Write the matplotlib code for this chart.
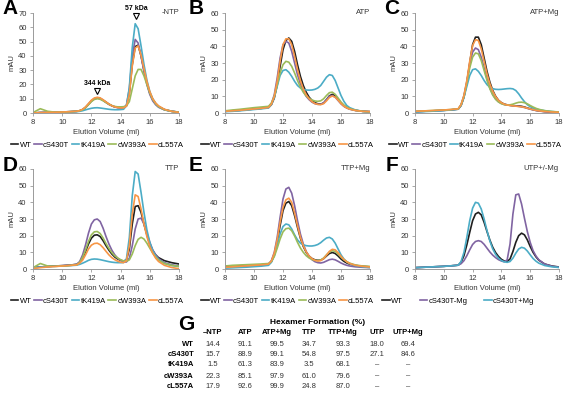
import matplotlib
matplotlib.use("Agg")
import matplotlib.pyplot as plt

plt.rcParams['font.family'] = ['Liberation Sans', 'DejaVu Sans']

# elution volume (ml), shared by every trace
vol = [8, 8.5, 9, 9.5, 10, 10.5, 11, 11.2, 11.4, 11.6, 11.8, 12, 12.2, 12.4, 12.6, 12.8,
       13, 13.2, 13.4, 13.6, 13.8, 14, 14.2, 14.4, 14.6, 14.8, 15, 15.2, 15.4, 15.6, 15.8,
       16, 16.2, 16.4, 16.6, 17, 17.5, 18]

mutants = ['WT', 'cS430T', 'tK419A', 'cW393A', 'cL557A']
colors = ['#1f1f1f', '#8064A2', '#4BACC6', '#9BBB59', '#F79646']

# A: -NTP
a_wt = [0, 0.3, 0.4, 0.5, 0.7, 0.9, 1.2, 1.6, 2.4, 4.0, 6.2, 8.5, 10.0, 10.6, 10.2, 9.0, 7.6, 6.2, 5.1, 4.3, 3.9, 3.7, 3.7, 5.0, 14, 34, 46.5, 47.5, 40, 30, 21, 14, 9.5, 6.5, 4.5, 2.4, 1.2, 0.6]
a_s430t = [0, 0.3, 0.4, 0.5, 0.7, 0.9, 1.2, 1.6, 2.3, 3.8, 6.0, 8.3, 9.8, 10.4, 10.0, 8.8, 7.4, 6.0, 5.0, 4.2, 3.8, 3.6, 3.6, 5.5, 17, 40, 51.5, 49, 40, 29, 20, 13, 8.5, 5.8, 4.0, 2.2, 1.1, 0.5]
a_k419a = [0, 0.2, 0.3, 0.4, 0.5, 0.7, 0.9, 1.2, 1.6, 2.2, 2.8, 3.3, 3.6, 3.7, 3.5, 3.2, 2.9, 2.6, 2.4, 2.3, 2.3, 2.4, 2.6, 5.0, 18, 46, 62.5, 59, 47, 34, 23, 15, 10, 6.8, 4.6, 2.4, 1.2, 0.6]
a_w393a = [0.3, 3.0, 1.2, 0.6, 0.7, 0.9, 1.2, 1.6, 2.3, 3.7, 5.8, 8.0, 9.5, 10.0, 9.6, 8.6, 7.3, 6.1, 5.2, 4.6, 4.3, 4.3, 4.4, 5.0, 8, 17, 26, 30.5, 30.5, 26, 20, 14, 9.5, 6.5, 4.5, 2.3, 1.1, 0.5]
a_l557a = [0, 0.3, 0.4, 0.5, 0.7, 0.9, 1.2, 1.7, 2.6, 4.3, 6.6, 9.0, 10.5, 11.0, 10.6, 9.3, 7.8, 6.3, 5.1, 4.3, 3.8, 3.6, 3.6, 4.8, 13, 33, 45.5, 47, 40.5, 31, 22, 15, 10, 7, 5, 2.6, 1.2, 0.4]

# B: ATP
b_wt = [1.0, 1.3, 1.6, 2.0, 2.4, 2.8, 3.3, 5.0, 9, 17, 28, 38, 43.5, 45, 43, 37, 29, 22, 16.5, 12.5, 9.5, 7.5, 6.2, 5.5, 5.3, 6.0, 8.0, 10.3, 11.2, 10.3, 8.2, 6.0, 4.3, 3.2, 2.5, 1.6, 1.0, 0.8]
b_s430t = [1.0, 1.3, 1.6, 2.0, 2.4, 2.8, 3.4, 5.5, 11, 21, 33, 41, 43, 42, 37, 30, 23, 17.5, 13, 10, 8, 6.5, 5.6, 5.2, 5.2, 6.0, 8.0, 10.0, 10.5, 9.5, 7.5, 5.5, 4.0, 3.0, 2.3, 1.5, 1.0, 0.8]
b_k419a = [0.8, 1.0, 1.3, 1.7, 2.1, 2.5, 3.0, 5, 9.5, 16, 22.5, 25.5, 26, 24.5, 22, 19, 16.5, 15, 14.2, 13.8, 13.7, 13.8, 14.2, 15.0, 16.5, 19, 21.5, 23, 22.5, 19.5, 15, 10.5, 7, 4.5, 3.2, 1.8, 1.0, 0.6]
b_w393a = [1.3, 1.8, 2.2, 2.7, 3.2, 3.6, 4.0, 6, 10, 17, 24, 29, 31, 30.5, 28, 24, 19.5, 15.5, 12.5, 10.2, 8.8, 7.8, 7.2, 7.0, 7.3, 8.5, 10.5, 12.2, 12.5, 11.2, 9, 6.6, 4.8, 3.5, 2.6, 1.6, 1.0, 0.7]
b_l557a = [1.0, 1.3, 1.6, 2.0, 2.4, 2.8, 3.3, 5.3, 10, 19, 31, 41, 44.5, 44.5, 41, 34, 26, 19.5, 14.5, 11, 8.5, 6.8, 5.7, 5.2, 5.0, 5.6, 7.3, 9.3, 10.2, 9.5, 7.7, 5.7, 4.1, 3.0, 2.3, 1.5, 1.0, 0.8]

# C: ATP+Mg
c_wt = [0.8, 1.0, 1.2, 1.4, 1.6, 1.9, 2.3, 4.5, 9.5, 18, 30, 41, 45.5, 45.5, 41, 33, 25, 18.5, 13.5, 10, 7.6, 6.2, 5.3, 4.9, 4.6, 4.4, 4.3, 4.2, 4.0, 3.6, 3.0, 2.5, 2.0, 1.6, 1.3, 0.9, 0.6, 0.4]
c_s430t = [0.8, 1.0, 1.2, 1.4, 1.6, 1.9, 2.4, 5, 10.5, 19, 29, 36.5, 39, 38, 33.5, 27, 20.5, 15, 11, 8.4, 6.7, 5.7, 5.1, 4.8, 4.6, 4.4, 4.2, 4.0, 3.7, 3.3, 2.8, 2.3, 1.9, 1.5, 1.2, 0.8, 0.5, 0.3]
c_k419a = [0.6, 0.8, 1.0, 1.2, 1.5, 1.8, 2.3, 4.5, 9.5, 16, 22.5, 26, 26.5, 25, 22.5, 19.5, 17, 15.5, 14.6, 14.2, 14.1, 14.2, 14.4, 14.6, 14.7, 14.5, 13.5, 11.5, 9, 6.8, 5, 3.8, 3.0, 2.4, 2.0, 1.4, 0.9, 0.5]
c_w393a = [1.0, 1.2, 1.4, 1.6, 1.8, 2.1, 2.5, 5, 10, 18, 27, 33.5, 36, 35.5, 31.5, 25.5, 19.5, 14.5, 10.8, 8.2, 6.6, 5.6, 5.0, 4.8, 4.9, 5.3, 5.9, 6.4, 6.5, 6.2, 5.5, 4.5, 3.6, 2.8, 2.2, 1.4, 0.9, 0.6]
c_l557a = [1.0, 1.2, 1.4, 1.6, 1.8, 2.1, 2.5, 5, 10.5, 19.5, 31, 40.5, 44, 43.5, 38.5, 31, 23.5, 17.5, 13, 9.8, 7.6, 6.2, 5.3, 4.8, 4.5, 4.3, 4.1, 3.9, 3.7, 3.4, 2.9, 2.4, 2.0, 1.6, 1.3, 0.9, 0.6, 0.4]

# D: TTP
d_wt = [0.8, 1.2, 1.5, 1.8, 2.0, 2.3, 2.8, 4, 6.5, 10.5, 15, 18.5, 20.3, 20.5, 19.5, 17, 14, 11.3, 9, 7.2, 6, 5.2, 4.7, 5.5, 12, 27, 37.5, 38, 34, 27, 20.5, 15, 11, 8.5, 6.8, 5, 3.8, 3.0]
d_s430t = [0.8, 1.2, 1.5, 1.8, 2.0, 2.3, 2.8, 4.5, 8.5, 14.5, 21.5, 27, 29.5, 30, 28.5, 24.5, 19.5, 15, 11.3, 8.5, 6.5, 5.2, 4.3, 4.2, 6.5, 14, 24, 30, 30.5, 27, 21.5, 16, 11.5, 8.5, 6.2, 3.8, 2.5, 1.8]
d_k419a = [0.8, 1.1, 1.3, 1.6, 1.8, 2.0, 2.3, 2.8, 3.5, 4.3, 5.2, 5.8, 6.0, 5.9, 5.6, 5.2, 4.8, 4.4, 4.1, 3.9, 3.8, 3.8, 3.9, 6, 19, 44, 58.5, 57, 46, 34, 23.5, 16, 11, 7.8, 5.6, 3.3, 2.1, 1.5]
d_w393a = [0.8, 3.3, 1.8, 1.6, 1.8, 2.1, 2.6, 4, 7, 11.5, 16.5, 20.5, 22.3, 22.5, 21.3, 18.6, 15.3, 12.3, 9.8, 7.9, 6.6, 5.6, 4.9, 4.6, 5.5, 9, 14, 17.8, 19, 18, 15.5, 12.5, 9.5, 7.2, 5.4, 3.3, 2.2, 1.6]
d_l557a = [0.3, 0.8, 1.2, 1.5, 1.8, 2.1, 2.5, 3.5, 5.3, 8.5, 12, 14.3, 15.3, 15.5, 14.6, 12.8, 10.6, 8.5, 6.8, 5.6, 4.7, 4.1, 3.8, 5, 14, 33, 44.5, 43.5, 36, 27, 19.5, 13.5, 9.5, 6.5, 4.5, 2.2, 0.9, 0.2]

# E: TTP+Mg
e_wt = [1.5, 1.7, 1.9, 2.1, 2.3, 2.5, 2.9, 4.5, 8.5, 16, 26, 35, 39.5, 40.5, 38, 32, 25, 18.5, 13.5, 10, 7.7, 6.3, 5.5, 5.2, 5.3, 6.2, 7.8, 9.3, 9.9, 9.3, 7.8, 6.0, 4.6, 3.6, 2.9, 2.1, 1.6, 1.3]
e_s430t = [1.0, 1.3, 1.6, 1.9, 2.2, 2.5, 2.9, 5, 10, 19, 31, 42, 48, 49, 45.5, 38, 29, 21, 15, 10.5, 7.5, 5.6, 4.4, 3.8, 3.6, 4.0, 4.8, 5.6, 5.9, 5.5, 4.6, 3.6, 2.8, 2.2, 1.8, 1.3, 1.0, 0.8]
e_k419a = [0.5, 0.7, 0.9, 1.1, 1.4, 1.7, 2.2, 4, 8, 14.5, 21, 25.5, 27, 26.5, 24, 20.5, 17.5, 15.5, 14.5, 14, 13.8, 13.8, 14.1, 14.7, 15.8, 17.3, 18.6, 19, 18, 15.5, 12, 8.5, 6, 4.3, 3.2, 2.0, 1.3, 0.9]
e_w393a = [1.8, 2.2, 2.4, 2.6, 2.8, 3.0, 3.3, 4.5, 7.5, 12.5, 18, 22.3, 24.2, 24.5, 23, 19.8, 16, 12.6, 10, 8, 6.6, 5.7, 5.2, 5.0, 5.4, 6.6, 8.5, 10.2, 11, 10.5, 9, 7.2, 5.6, 4.4, 3.5, 2.4, 1.8, 1.5]
e_l557a = [1.0, 1.3, 1.6, 1.9, 2.2, 2.5, 2.9, 4.8, 9.5, 17.5, 28, 37, 41.5, 42.5, 40, 33.5, 26, 19, 14, 10.3, 7.8, 6.2, 5.2, 4.8, 5.0, 6.2, 8.3, 10.6, 11.8, 11.5, 9.8, 7.6, 5.7, 4.3, 3.3, 2.2, 1.6, 1.2]

# F: UTP +/- Mg
f_labels = ['WT', 'cS430T-Mg', 'cS430T+Mg']
f_colors = ['#1f1f1f', '#8064A2', '#4BACC6']
f_wt = [0.8, 1.0, 1.2, 1.4, 1.6, 1.9, 2.3, 4, 8, 14.5, 22, 29, 33, 34, 32.5, 28, 22.5, 17.3, 13, 9.8, 7.5, 5.8, 4.8, 4.5, 6, 10.5, 16, 20, 21.5, 20.5, 17.5, 13.5, 10, 7.3, 5.3, 3.0, 1.8, 1.2]
f_s430t_nomg = [0.8, 1.0, 1.2, 1.4, 1.6, 1.9, 2.3, 3.2, 5, 8, 11.5, 14.7, 16.5, 17, 16.5, 14.8, 12.5, 10.2, 8.3, 6.8, 5.6, 4.8, 4.3, 5.5, 15, 33, 44.5, 45, 39, 30.5, 22.5, 16, 11, 7.8, 5.5, 3.0, 1.7, 1.0]
f_s430t_mg = [0.8, 1.0, 1.2, 1.4, 1.6, 1.9, 2.3, 4.5, 10, 19, 29, 36.5, 40, 39.5, 36, 30, 23, 16.8, 12, 8.7, 6.5, 5.1, 4.3, 4.0, 4.5, 6.5, 9.5, 12, 13, 12.5, 10.8, 8.5, 6.3, 4.7, 3.5, 2.1, 1.3, 0.9]

# G: hexamer formation table
conditions = ['\u2013NTP', 'ATP', 'ATP+Mg', 'TTP', 'TTP+Mg', 'UTP', 'UTP+Mg']
hex_wt = ['14.4', '91.1', '99.5', '34.7', '93.3', '18.0', '69.4']
hex_s430t = ['15.7', '88.9', '99.1', '54.8', '97.5', '27.1', '84.6']
hex_k419a = ['1.5', '61.3', '83.9', '3.5', '68.1', '\u2013', '\u2013']
hex_w393a = ['22.3', '85.1', '97.9', '61.0', '79.6', '\u2013', '\u2013']
hex_l557a = ['17.9', '92.6', '99.9', '24.8', '87.0', '\u2013', '\u2013']

W, H = 567, 396
fig = plt.figure(figsize=(W / 100, H / 100), dpi=100)


def px_axes(left, top, right, bottom):
    return fig.add_axes([left / W, 1 - bottom / H, (right - left) / W, (bottom - top) / H])


def ftext(x, y, s, size=5.5, **kw):
    fig.text(x / W, 1 - y / H, s, fontsize=size, va='center', **kw)


def style_axes(ax, ymax, title):
    ax.set_xlim(8, 18)
    ax.set_ylim(0, ymax)
    ax.set_xticks([8, 10, 12, 14, 16, 18])
    ax.set_yticks(range(0, ymax + 1, 10))
    for s in ['top', 'right']:
        ax.spines[s].set_visible(False)
    for s in ['left', 'bottom']:
        ax.spines[s].set_color('#9a9a9a')
        ax.spines[s].set_linewidth(0.7)
    ax.tick_params(labelsize=5.5, colors='#9a9a9a', labelcolor='#333333',
                   length=2.5, width=0.6, pad=2)
    ax.set_xlabel('Elution Volume (ml)', fontsize=5.5, color='#333333', labelpad=2)
    ax.set_ylabel('mAU', fontsize=5.5, color='#333333', labelpad=2)
    ax.text(1.0, 1.0, title, transform=ax.transAxes, ha='right', va='center',
            fontsize=5.5, color='#333333')


def draw_panel(ax, series, labels, cols, ymax, title, leg_x, colsp=0.35):
    for y, lab, c in zip(series, labels, cols):
        ax.plot(vol, y, color=c, lw=1.2, label=lab)
    style_axes(ax, ymax, title)
    ax.legend(loc='center', bbox_to_anchor=(leg_x, -0.32), ncol=len(labels), fontsize=5.5,
              frameon=False, handlelength=1.0, handletextpad=0.15, columnspacing=colsp)


ax_a = px_axes(33, 13, 179, 113)
ax_b = px_axes(225, 13, 370, 113)
ax_c = px_axes(415, 13, 559, 113)
ax_d = px_axes(33, 169, 179, 269)
ax_e = px_axes(225, 169, 370, 269)
ax_f = px_axes(415, 169, 559, 269)

draw_panel(ax_a, [a_wt, a_s430t, a_k419a, a_w393a, a_l557a], mutants, colors, 70, '-NTP', 0.44)
draw_panel(ax_b, [b_wt, b_s430t, b_k419a, b_w393a, b_l557a], mutants, colors, 60, 'ATP', 0.43)
draw_panel(ax_c, [c_wt, c_s430t, c_k419a, c_w393a, c_l557a], mutants, colors, 60, 'ATP+Mg', 0.42)
draw_panel(ax_d, [d_wt, d_s430t, d_k419a, d_w393a, d_l557a], mutants, colors, 60, 'TTP', 0.44)
draw_panel(ax_e, [e_wt, e_s430t, e_k419a, e_w393a, e_l557a], mutants, colors, 60, 'TTP+Mg', 0.43)
draw_panel(ax_f, [f_wt, f_s430t_nomg, f_s430t_mg], f_labels, f_colors, 60, 'UTP+/-Mg', 0.3, colsp=2.2)

# panel letters
for lx, ly, letter in [(10, 9, 'A'), (196, 9, 'B'), (392, 9, 'C'),
                       (10, 165, 'D'), (196, 165, 'E'), (392, 165, 'F'), (186, 325, 'G')]:
    ftext(lx, ly, letter, size=15, fontweight='bold', ha='center')

# size markers in A
for xm, ym, lab in [(12.4, 15.5, '344 kDa'), (15.05, 68, '57 kDa')]:
    ax_a.plot(xm, ym, marker='v', ms=4, mfc='white', mec='black', mew=0.8, clip_on=False)
    ax_a.text(xm, ym + 5, lab, ha='center', va='center', fontsize=5, fontweight='bold')

# G table
ftext(318, 322, 'Hexamer Formation (%)', size=6, fontweight='bold', ha='center')
col_x = [213, 245, 277, 309, 343, 377, 408]
for x, c in zip(col_x, conditions):
    ftext(x, 333, c, fontweight='bold', ha='center')
rows = [hex_wt, hex_s430t, hex_k419a, hex_w393a, hex_l557a]
row_y = [345, 355, 365, 376, 387]
for name, vals, y in zip(mutants, rows, row_y):
    ftext(194, y, name, fontweight='bold', ha='right')
    for x, v in zip(col_x, vals):
        ftext(x, y, v, ha='center', color='#333333')

fig.savefig('out.png', dpi=100)
